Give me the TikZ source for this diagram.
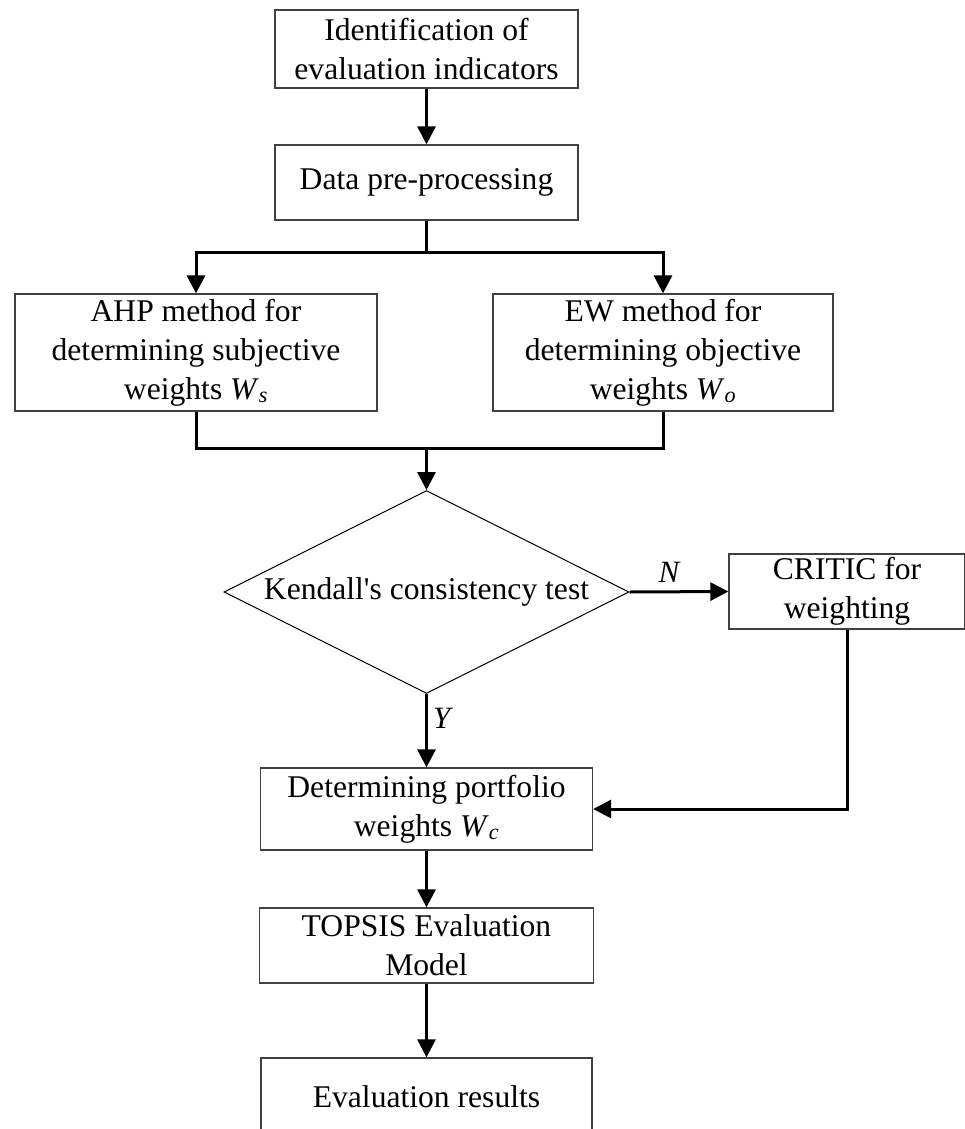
\documentclass[tikz,border=0pt]{standalone}
\usepackage{fontspec}
\setmainfont{Liberation Serif}[Ligatures=TeXOff]
\usetikzlibrary{arrows.meta,shapes.geometric}

\tikzset{
  box/.style={draw=black!75, line width=1.3pt, rectangle, inner sep=0pt,
    align=center, font=\fontsize{31.6}{39}\selectfont},
  decision/.style={draw=black, line width=1pt, diamond, aspect=2, inner sep=0pt,
    minimum width=405pt, minimum height=203pt,
    font=\fontsize{31.6}{39}\selectfont},
  flow/.style={line width=3pt, -{Triangle[length=18pt,width=18pt]}},
  link/.style={line width=3pt},
  branch/.style={font=\fontsize{31}{36}\selectfont\itshape, inner sep=2pt}
}
\newcommand{\wsub}[1]{\textit{W}\textsubscript{\textit{#1}}}

\begin{document}
\begin{tikzpicture}[x=1pt,y=-1pt]
  \useasboundingbox (0,0) rectangle (964,1129);

  % process boxes
  \node[box, minimum width=303pt, minimum height=78pt] (ident) at (426.5,49)
    {Identification of\\evaluation indicators};
  \node[box, minimum width=303pt, minimum height=75pt] (prep) at (426.5,182.5)
    {Data pre-processing};
  \node[box, minimum width=362pt, minimum height=117pt] (ahp) at (196,352.5)
    {AHP method for\\determining subjective\\weights \wsub{s}};
  \node[box, minimum width=340pt, minimum height=117pt] (ew) at (663,352.5)
    {EW method for\\determining objective\\weights \wsub{o}};
  \node[decision] (kendall) at (426.5,592) {Kendall's consistency test};
  \node[box, minimum width=236pt, minimum height=75pt] (critic) at (847,591.5)
    {CRITIC for\\weighting};
  \node[box, minimum width=332pt, minimum height=82pt] (port) at (426.5,809)
    {Determining portfolio\\weights \wsub{c}};
  \node[box, minimum width=334pt, minimum height=75pt] (topsis) at (426.5,945.5)
    {TOPSIS Evaluation\\Model};
  \node[box, minimum width=331pt, minimum height=78pt] (result) at (426.5,1097)
    {Evaluation results};

  % junction points of the split and merge lines
  \coordinate (split) at (426.5,252);
  \coordinate (merge) at (426.5,448);

  % connectors
  \draw[flow] (ident) -- (prep);
  \draw[link] (prep.south) -- (split);
  \draw[flow] (split) -| (ahp.north);
  \draw[flow] (split) -| (ew.north);
  \draw[link] (ahp.south) |- (merge);
  \draw[link] (ew.south) |- (merge);
  \draw[flow] (merge) -- (kendall.north);
  \draw[flow] (kendall.east) -- node[branch, above=6pt, pos=0.4] {N} (critic.west);
  \draw[flow] (kendall.south) -- node[branch, right=3pt, pos=0.33] {Y} (port.north);
  \draw[flow] (critic.south) |- (port.east);
  \draw[flow] (port) -- (topsis);
  \draw[flow] (topsis) -- (result);
\end{tikzpicture}
\end{document}
